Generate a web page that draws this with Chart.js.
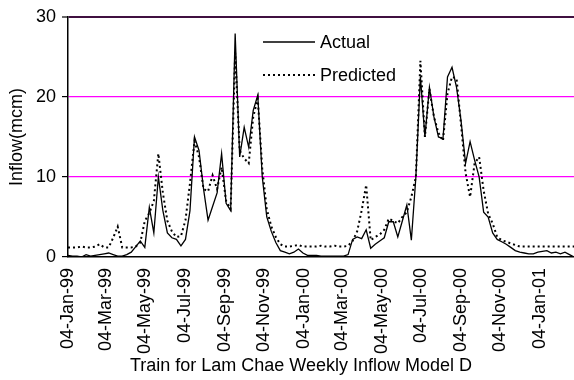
<!DOCTYPE html>
<html>
<head>
<meta charset="utf-8">
<script src="https://cdn.jsdelivr.net/npm/chart.js@4.4.1/dist/chart.umd.min.js"></script>
<style>
  html, body { margin: 0; padding: 0; background: #fff; overflow: hidden; }
  canvas { display: block; }
</style>
</head>
<body>
<canvas id="chart" width="574" height="380"></canvas>
<script>
// Weekly inflow series, one value per week starting on the first week below.
const firstWeek = '04-Jan-99';

const tickLabels = [
  '04-Jan-99', '04-Mar-99', '04-May-99', '04-Jul-99', '04-Sep-99', '04-Nov-99',
  '04-Jan-00', '04-Mar-00', '04-May-00', '04-Jul-00', '04-Sep-00', '04-Nov-00',
  '04-Jan-01'
];

const actual = [
  0.2, 0.1, 0.1, 0.0, 0.3, 0.1, 0.2, 0.3, 0.4, 0.5,
  0.3, 0.1, 0.1, 0.3, 0.6, 1.3, 2.0, 1.2, 6.2, 3.0,
  10.0, 5.8, 3.0, 2.4, 2.2, 1.4, 2.2, 5.8, 15.0, 13.3,
  8.5, 4.6, 6.3, 8.0, 12.9, 6.7, 5.8, 27.9, 12.5, 16.2,
  13.7, 18.3, 20.2, 10.0, 5.0, 3.2, 1.8, 0.8, 0.6, 0.4,
  0.6, 1.0, 0.5, 0.2, 0.2, 0.2, 0.1, 0.1, 0.1, 0.1,
  0.1, 0.1, 0.3, 2.2, 2.5, 2.3, 3.4, 1.1, 1.6, 2.0,
  2.4, 4.4, 4.4, 2.5, 4.5, 6.5, 2.1, 10.0, 22.5, 15.0,
  21.2, 17.5, 15.0, 14.8, 22.5, 23.7, 21.2, 17.0, 11.7, 14.4,
  12.1, 10.0, 5.6, 5.0, 3.0, 2.2, 1.9, 1.6, 1.2, 0.8,
  0.6, 0.5, 0.4, 0.4, 0.6, 0.7, 0.8, 0.5, 0.6, 0.4,
  0.6, 0.3, 0.0
];

const predicted = [
  1.2, 1.2, 1.2, 1.3, 1.2, 1.2, 1.3, 1.6, 1.2, 1.2,
  2.4, 3.8, 1.2, 1.2, 1.2, 1.3, 1.8, 4.5, 5.5, 7.0,
  12.9, 8.0, 4.5, 3.2, 2.5, 2.6, 4.6, 9.2, 14.5, 12.5,
  8.5, 8.2, 10.2, 8.5, 11.2, 7.0, 6.0, 25.5, 13.3, 12.3,
  11.7, 17.5, 19.8, 11.0, 6.0, 3.8, 2.5, 1.6, 1.3, 1.3,
  1.4, 1.5, 1.3, 1.3, 1.3, 1.3, 1.4, 1.3, 1.3, 1.4,
  1.3, 1.3, 1.4, 2.0, 3.2, 5.8, 9.0, 2.1, 2.5, 2.8,
  3.4, 4.8, 4.5, 4.2, 5.0, 5.6, 7.5, 10.0, 24.5, 15.0,
  21.0, 17.5, 15.5, 14.5, 20.4, 22.5, 22.3, 16.5, 10.5, 7.5,
  11.7, 12.5, 8.3, 5.4, 4.2, 2.5, 2.1, 1.9, 1.7, 1.5,
  1.3, 1.3, 1.3, 1.3, 1.3, 1.3, 1.3, 1.3, 1.3, 1.3,
  1.3, 1.3, 1.3
];

const yTicks = [0, 10, 20, 30];
const seriesNames = ['Actual', 'Predicted'];
const xTitle = 'Train for Lam Chae Weekly Inflow Model D';
const yTitle = 'Inflow(mcm)';

// Date helpers: labels look like "04-Mar-99"; the x axis counts days from the first week.
const MONTHS = ['Jan','Feb','Mar','Apr','May','Jun','Jul','Aug','Sep','Oct','Nov','Dec'];
function toDay(s) {
  const [d, m, y] = s.split('-');
  const yr = Number(y) < 50 ? 2000 + Number(y) : 1900 + Number(y);
  return Date.UTC(yr, MONTHS.indexOf(m), Number(d)) / 86400000;
}
const day0 = toDay(firstWeek);
const tickDays = tickLabels.map(s => toDay(s) - day0);
const toPoints = arr => arr.map((v, i) => ({ x: i * 7, y: v }));
const lastDay = (actual.length - 1) * 7;

const FONT = '"Liberation Sans", Arial, sans-serif';

// In-plot legend and the bottom caption.
const overlay = {
  id: 'overlay',
  afterDraw(chart) {
    const { ctx } = chart;
    ctx.save();
    ctx.font = '18px ' + FONT;
    ctx.fillStyle = '#000';
    ctx.textBaseline = 'middle';
    const rows = [42, 75];
    chart.data.datasets.forEach((ds, i) => {
      const y = rows[i];
      ctx.strokeStyle = ds.borderColor;
      ctx.lineWidth = ds.borderWidth;
      ctx.setLineDash(ds.borderDash || []);
      ctx.beginPath();
      ctx.moveTo(263, y);
      ctx.lineTo(315, y);
      ctx.stroke();
      ctx.setLineDash([]);
      ctx.textAlign = 'left';
      ctx.fillText(ds.label, 320, y + 1);
    });
    ctx.textAlign = 'center';
    ctx.fillText(xTitle, 301, 366);
    ctx.restore();
  }
};

new Chart(document.getElementById('chart'), {
  type: 'line',
  data: {
    datasets: [
      {
        label: seriesNames[0],
        data: toPoints(actual),
        borderColor: '#000',
        borderWidth: 1.3,
        pointRadius: 0,
        tension: 0,
        fill: false
      },
      {
        label: seriesNames[1],
        data: toPoints(predicted),
        borderColor: '#000',
        borderWidth: 2,
        borderDash: [2, 3],
        borderCapStyle: 'butt',
        pointRadius: 0,
        tension: 0,
        fill: false
      }
    ]
  },
  options: {
    responsive: false,
    devicePixelRatio: 1,
    animation: false,
    layout: { padding: { top: 16, right: 0, bottom: 0, left: 0 } },
    plugins: {
      legend: { display: false },
      title: { display: false },
      tooltip: { enabled: false }
    },
    scales: {
      x: {
        type: 'linear',
        min: 0,
        max: lastDay,
        afterBuildTicks: scale => { scale.ticks = tickDays.map(v => ({ value: v })); },
        afterFit: scale => { scale.height = 123; },
        grid: { display: false, drawTicks: false },
        border: { display: true, color: '#000', width: 1.5 },
        ticks: {
          autoSkip: false,
          minRotation: 90,
          maxRotation: 90,
          padding: 11,
          color: '#000',
          font: { family: FONT, size: 18 },
          callback: (v, i) => tickLabels[i]
        }
      },
      y: {
        min: 0,
        max: 30,
        afterBuildTicks: scale => { scale.ticks = yTicks.map(v => ({ value: v })); },
        afterFit: scale => { scale.width = 68; },
        grid: {
          color: c => c.tick.value === 0 ? 'rgba(0,0,0,0)' : (c.tick.value === 30 ? '#401040' : '#ff00ff'),
          lineWidth: c => c.tick.value === 30 ? 2 : 1.2,
          tickColor: '#000',
          tickLength: 6,
          tickWidth: 1.2
        },
        border: { display: true, color: '#000', width: 1.5 },
        ticks: {
          padding: 6,
          color: '#000',
          font: { family: FONT, size: 18 }
        },
        title: {
          display: true,
          text: yTitle,
          color: '#000',
          font: { family: FONT, size: 18 },
          padding: { top: 6, bottom: 0 }
        }
      }
    }
  },
  plugins: [overlay]
});
</script>
</body>
</html>
